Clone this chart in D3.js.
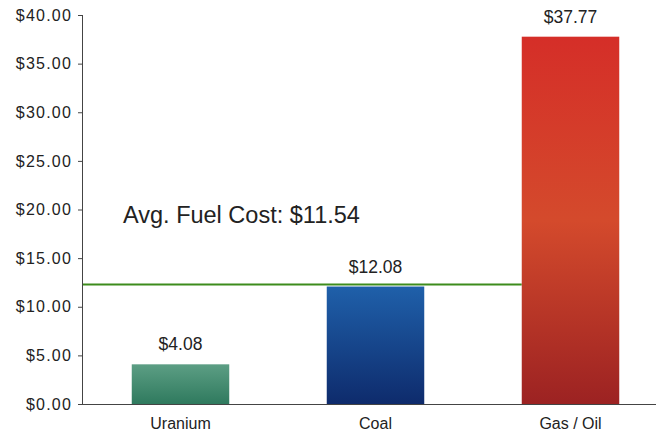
<!DOCTYPE html>
<html>
<head>
<meta charset="utf-8">
<script src="https://cdn.jsdelivr.net/npm/d3@7"></script>
<style>
  html, body { margin: 0; padding: 0; background: #fff; }
  svg { display: block; font-family: "Liberation Sans", Arial, Helvetica, sans-serif; }
</style>
</head>
<body>
<svg id="chart" width="656" height="437"></svg>
<script>
const categories = ["Uranium", "Coal", "Gas / Oil"];
const costs = [4.08, 12.08, 37.77];
const costLabels = ["$4.08", "$12.08", "$37.77"];
const avgCost = 11.54;
const avgLineLevel = 12.3; // where the green line sits in the picture
const yTicks = [0, 5, 10, 15, 20, 25, 30, 35, 40];
const gradients = [
  ["#5c9e84", "#2f7a5e"],
  ["#1f60aa", "#0e2b6c"],
  ["#d52e28", "#d44a2c", "#9c2222"]
];

(function () {
const svg = d3.select("#chart");
const W = 656;
const mLeft = 83, mTop = 15, mBottom = 404;

const x = d3.scaleBand().domain(categories).range([mLeft, 668]).paddingInner(0.5).paddingOuter(0.25);
const y = d3.scaleLinear().domain([0, 40]).range([mBottom, mTop]);

const defs = svg.append("defs");
gradients.forEach((stops, i) => {
  const g = defs.append("linearGradient").attr("id", "g" + i)
    .attr("x1", 0).attr("y1", 0).attr("x2", 0).attr("y2", 1);
  stops.forEach((c, j) => g.append("stop")
    .attr("offset", (j / (stops.length - 1)) * 100 + "%").attr("stop-color", c));
});

// average line (behind bars)
svg.append("line")
  .attr("x1", mLeft).attr("x2", x(categories[2]))
  .attr("y1", y(avgLineLevel)).attr("y2", y(avgLineLevel))
  .attr("stroke", "#3d8c1c").attr("stroke-width", 2);

// bars
svg.selectAll("rect.bar").data(categories).enter().append("rect")
  .attr("class", "bar")
  .attr("x", d => x(d))
  .attr("width", x.bandwidth())
  .attr("y", (d, i) => y(costs[i]))
  .attr("height", (d, i) => mBottom - y(costs[i]))
  .attr("fill", (d, i) => `url(#g${i})`);

// value labels
svg.selectAll("text.val").data(categories).enter().append("text")
  .attr("class", "val")
  .attr("x", d => x(d) + x.bandwidth() / 2)
  .attr("y", (d, i) => y(costs[i]) - 14)
  .attr("text-anchor", "middle")
  .attr("font-size", 17.5)
  .attr("fill", "#222")
  .text((d, i) => costLabels[i]);

// y axis
const yAxis = d3.axisLeft(y).tickValues(yTicks).tickSize(5).tickPadding(6)
  .tickFormat(d => "$" + d.toFixed(2));
const ya = svg.append("g").attr("transform", `translate(${mLeft},0)`).call(yAxis);
ya.select(".domain").attr("stroke", "#444").attr("d", `M-0.5,${mBottom}V${mTop}`);
ya.selectAll(".tick line").attr("stroke", "#444");
ya.selectAll(".tick text").attr("font-size", 16).attr("fill", "#222")
  .attr("letter-spacing", "1.2px").attr("font-family", "Liberation Sans, Arial, sans-serif");

// baseline / x axis
const xAxis = d3.axisBottom(x).tickSize(0).tickPadding(14);
const xa = svg.append("g").attr("transform", `translate(0,${mBottom})`).call(xAxis);
xa.select(".domain").attr("stroke", "#444").attr("d", `M${mLeft},0.5H${W}`);
xa.selectAll(".tick text").attr("font-size", 16).attr("fill", "#222")
  .attr("font-family", "Liberation Sans, Arial, sans-serif");

// avg label
svg.append("text")
  .attr("x", 123).attr("y", 223)
  .attr("font-size", 23.5).attr("fill", "#222")
  .text("Avg. Fuel Cost: $" + avgCost.toFixed(2));
})();
</script>
</body>
</html>
